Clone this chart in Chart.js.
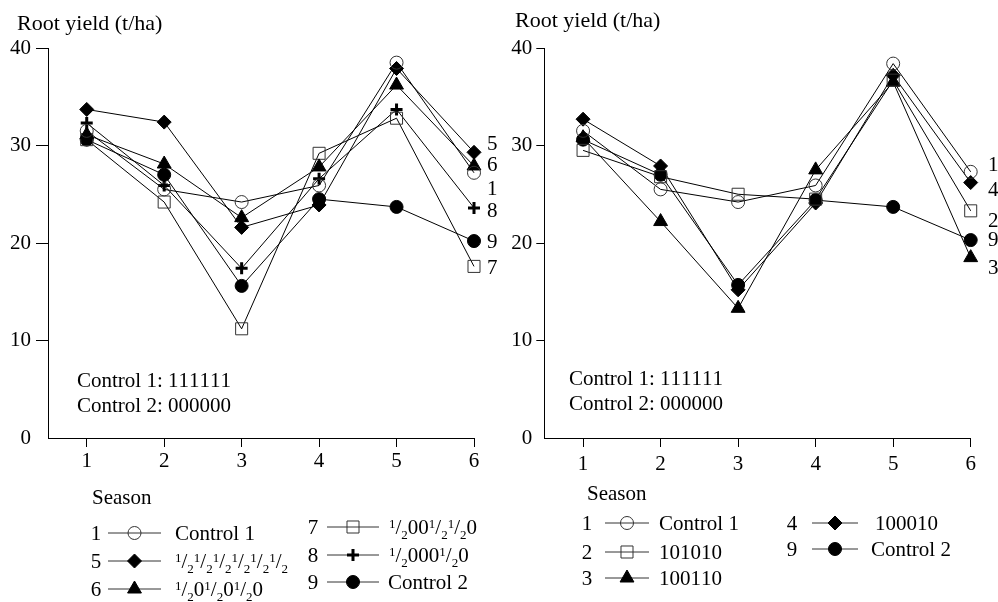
<!DOCTYPE html>
<html>
<head>
<meta charset="utf-8">
<script src="https://cdn.jsdelivr.net/npm/chart.js@4.4.0/dist/chart.umd.min.js"></script>
<style>
  body { margin: 0; background: #fff; }
  #wrap { position: relative; width: 998px; height: 602px; }
  canvas { position: absolute; top: 0; }
</style>
</head>
<body>
<div id="wrap">
  <canvas id="leftChart" width="499" height="602" style="left:0"></canvas>
  <canvas id="rightChart" width="499" height="602" style="left:499px"></canvas>
</div>
<script>
const seasons = [1, 2, 3, 4, 5, 6];
const yTicks = [0, 10, 20, 30, 40];

// left panel
const control1 = [31.5, 25.5, 24.2, 25.9, 38.5, 27.2];
const halfAll = [33.7, 32.4, 21.6, 23.9, 37.9, 29.3];
const halfAlt = [31.1, 28.1, 22.6, 27.8, 36.2, 27.9];
const half00hh0 = [30.6, 24.2, 11.2, 29.2, 32.8, 17.6];
const half000h0 = [32.3, 25.9, 17.4, 26.6, 33.7, 23.6];
const control2 = [30.6, 27.0, 15.6, 24.5, 23.7, 20.2];

// right panel
const control1R = [31.5, 25.5, 24.2, 25.9, 38.4, 27.3];
const t101010 = [29.5, 26.8, 25.0, 24.5, 36.7, 23.3];
const t100110 = [30.8, 22.2, 13.3, 27.5, 36.5, 18.5];
const t100010 = [32.7, 27.9, 15.2, 24.1, 37.2, 26.2];
const control2R = [30.6, 27.0, 15.7, 24.4, 23.7, 20.3];

const leftNums = ['1', '5', '6', '7', '8', '9'];
const leftNames = ['Control 1', '½½½½½½', '½0½0½0', '½00½½0', '½000½0', 'Control 2'];
const rightNums = ['1', '2', '3', '4', '9'];
const rightNames = ['Control 1', '101010', '100110', '100010', 'Control 2'];

// numbers written at the right end of each panel (value = y level)
const leftEndLabels = ['5', '6', '1', '8', '9', '7'];
const leftEndAt = [30.3, 28.1, 25.7, 23.4, 20.2, 17.6];
const rightEndLabels = ['1', '4', '2', '9', '3'];
const rightEndAt = [28.1, 25.6, 22.4, 20.4, 17.6];

const FONT = '"Liberation Serif", "Times New Roman", serif';
const FS = 21;

const markers = {
  openCircle: { pointStyle: 'circle', pointRadius: 6.5, pointBackgroundColor: 'rgba(0,0,0,0)', pointBorderColor: '#333', pointBorderWidth: 1 },
  diamond: { pointStyle: 'rectRot', pointRadius: 7, pointBackgroundColor: '#000', pointBorderColor: '#000', pointBorderWidth: 1 },
  triangle: { pointStyle: 'triangle', pointRadius: 8, pointBackgroundColor: '#000', pointBorderColor: '#000', pointBorderWidth: 1 },
  openSquare: { pointStyle: 'rect', pointRadius: 8.5, pointBackgroundColor: 'rgba(0,0,0,0)', pointBorderColor: '#333', pointBorderWidth: 1 },
  plus: { pointStyle: 'cross', pointRadius: 6, pointBackgroundColor: '#000', pointBorderColor: '#000', pointBorderWidth: 3 },
  dot: { pointStyle: 'circle', pointRadius: 6.5, pointBackgroundColor: '#000', pointBorderColor: '#000', pointBorderWidth: 1 }
};

function series(values, marker) {
  return Object.assign({
    data: values.map((v, i) => ({ x: seasons[i], y: v })),
    borderColor: '#000',
    borderWidth: 1,
    tension: 0,
    clip: false,
    pointHoverRadius: 0
  }, markers[marker]);
}

function drawMarker(ctx, m, x, y) {
  const r = m.pointRadius;
  ctx.save();
  ctx.fillStyle = m.pointBackgroundColor;
  ctx.strokeStyle = m.pointBorderColor;
  ctx.lineWidth = m.pointBorderWidth;
  ctx.beginPath();
  if (m.pointStyle === 'circle') {
    ctx.arc(x, y, r, 0, Math.PI * 2);
  } else if (m.pointStyle === 'rectRot') {
    ctx.moveTo(x - r, y); ctx.lineTo(x, y - r); ctx.lineTo(x + r, y); ctx.lineTo(x, y + r); ctx.closePath();
  } else if (m.pointStyle === 'triangle') {
    for (let k = 0; k < 3; k++) {
      const a = k * 2 * Math.PI / 3;
      const px = x + Math.sin(a) * r, py = y - Math.cos(a) * r;
      if (k === 0) ctx.moveTo(px, py); else ctx.lineTo(px, py);
    }
    ctx.closePath();
  } else if (m.pointStyle === 'rect') {
    const s = r * Math.SQRT1_2;
    ctx.rect(x - s, y - s, 2 * s, 2 * s);
  } else if (m.pointStyle === 'cross') {
    ctx.moveTo(x - r, y); ctx.lineTo(x + r, y); ctx.moveTo(x, y - r); ctx.lineTo(x, y + r);
  }
  if (m.pointStyle !== 'cross') ctx.fill();
  ctx.stroke();
  ctx.restore();
}

// text where '½' is set as a small raised 1, a slash and a small lowered 2
function drawRich(ctx, text, x, yMid, size) {
  const base = yMid + size * 0.34;
  const big = size + 'px ' + FONT;
  const small = Math.round(size * 0.62) + 'px ' + FONT;
  ctx.textAlign = 'left';
  ctx.textBaseline = 'alphabetic';
  for (const ch of text) {
    if (ch === '½') {
      ctx.font = small;
      ctx.fillText('1', x, base - size * 0.3);
      x += ctx.measureText('1').width;
      ctx.font = big;
      ctx.fillText('/', x, base);
      x += ctx.measureText('/').width;
      ctx.font = small;
      ctx.fillText('2', x, base + size * 0.22);
      x += ctx.measureText('2').width;
    } else {
      ctx.font = big;
      ctx.fillText(ch, x, base);
      x += ctx.measureText(ch).width;
    }
  }
}

const decorPlugin = {
  id: 'decor',
  afterDraw(chart) {
    const o = chart.options.plugins.decor;
    const ctx = chart.ctx;
    const ys = chart.scales.y;
    ctx.save();
    ctx.fillStyle = '#000';
    drawRich(ctx, 'Root yield (t/ha)', o.title[0], o.title[1], 22);
    drawRich(ctx, 'Control 1: 111111', o.note[0], o.note[1], FS);
    drawRich(ctx, 'Control 2: 000000', o.note[0], o.note[1] + 25, FS);
    drawRich(ctx, 'Season', o.season[0], o.season[1], FS);
    o.endLabels.forEach((t, i) => drawRich(ctx, t, o.endX, ys.getPixelForValue(o.endAt[i]), FS));
    o.rows.forEach((row, i) => {
      const ds = chart.data.datasets[i];
      ctx.fillStyle = '#000';
      ctx.font = FS + 'px ' + FONT;
      ctx.textAlign = 'center';
      ctx.textBaseline = 'alphabetic';
      ctx.fillText(o.nums[i], row.num, row.y + FS * 0.34);
      ctx.strokeStyle = '#333';
      ctx.lineWidth = 1;
      ctx.beginPath();
      ctx.moveTo(row.l1, row.y);
      ctx.lineTo(row.l2, row.y);
      ctx.stroke();
      drawMarker(ctx, ds, (row.l1 + row.l2) / 2, row.y);
      ctx.fillStyle = '#000';
      drawRich(ctx, o.names[i], row.label, row.y, FS);
    });
    ctx.restore();
  }
};

function makeChart(id, datasets, pad, yWidth, tickLen, tickPad, decor) {
  return new Chart(document.getElementById(id), {
    type: 'line',
    data: { datasets },
    plugins: [decorPlugin],
    options: {
      responsive: false,
      animation: false,
      devicePixelRatio: 1,
      layout: { padding: pad },
      plugins: { legend: { display: false }, tooltip: { enabled: false }, decor },
      scales: {
        x: {
          type: 'linear', min: 0.5, max: 6,
          afterBuildTicks: ax => { ax.ticks = seasons.map(v => ({ value: v })); },
          afterFit: ax => { ax.height = 40; },
          border: { color: '#000', width: 1 },
          grid: { drawOnChartArea: false, drawTicks: true, tickLength: 9, color: '#000' },
          ticks: { color: '#000', font: { family: FONT, size: FS }, padding: decor.xPad, maxRotation: 0 }
        },
        y: {
          min: 0, max: 40,
          afterBuildTicks: ax => { ax.ticks = yTicks.map(v => ({ value: v })); },
          afterFit: ax => { ax.width = yWidth; },
          border: { color: '#000', width: 1 },
          grid: { drawOnChartArea: false, drawTicks: true, tickLength: tickLen, color: c => (c.tick && c.tick.value === 0 ? 'rgba(0,0,0,0)' : '#000') },
          ticks: { color: '#000', font: { family: FONT, size: FS }, padding: tickPad }
        }
      }
    }
  });
}

makeChart('leftChart', [
  series(control1, 'openCircle'),
  series(halfAll, 'diamond'),
  series(halfAlt, 'triangle'),
  series(half00hh0, 'openSquare'),
  series(half000h0, 'plus'),
  series(control2, 'dot')
], { top: 48, right: 25, bottom: 124, left: 0 }, 48, 12, 5, {
  title: [17, 23],
  note: [77, 380],
  season: [92, 497],
  endX: 487,
  endLabels: leftEndLabels,
  endAt: leftEndAt,
  nums: leftNums,
  names: leftNames,
  xPad: 2,
  rows: [
    { num: 96, l1: 108, l2: 161, label: 175, y: 533 },
    { num: 96, l1: 108, l2: 161, label: 175, y: 561 },
    { num: 96, l1: 108, l2: 161, label: 175, y: 589 },
    { num: 313, l1: 327, l2: 379, label: 389, y: 527 },
    { num: 313, l1: 327, l2: 379, label: 389, y: 555 },
    { num: 313, l1: 327, l2: 379, label: 388, y: 582 }
  ]
});

makeChart('rightChart', [
  series(control1R, 'openCircle'),
  series(t101010, 'openSquare'),
  series(t100110, 'triangle'),
  series(t100010, 'diamond'),
  series(control2R, 'dot')
], { top: 48, right: 27.3, bottom: 124, left: 0 }, 45.3, 8, 4, {
  title: [16, 20],
  note: [70, 378],
  season: [88, 493],
  endX: 489,
  endLabels: rightEndLabels,
  endAt: rightEndAt,
  nums: rightNums,
  names: rightNames,
  xPad: 5,
  rows: [
    { num: 88, l1: 106, l2: 150, label: 160, y: 523 },
    { num: 88, l1: 106, l2: 150, label: 160, y: 552 },
    { num: 88, l1: 106, l2: 150, label: 160, y: 578 },
    { num: 293, l1: 313, l2: 359, label: 376, y: 523 },
    { num: 293, l1: 313, l2: 359, label: 372, y: 549 }
  ]
});
</script>
</body>
</html>
